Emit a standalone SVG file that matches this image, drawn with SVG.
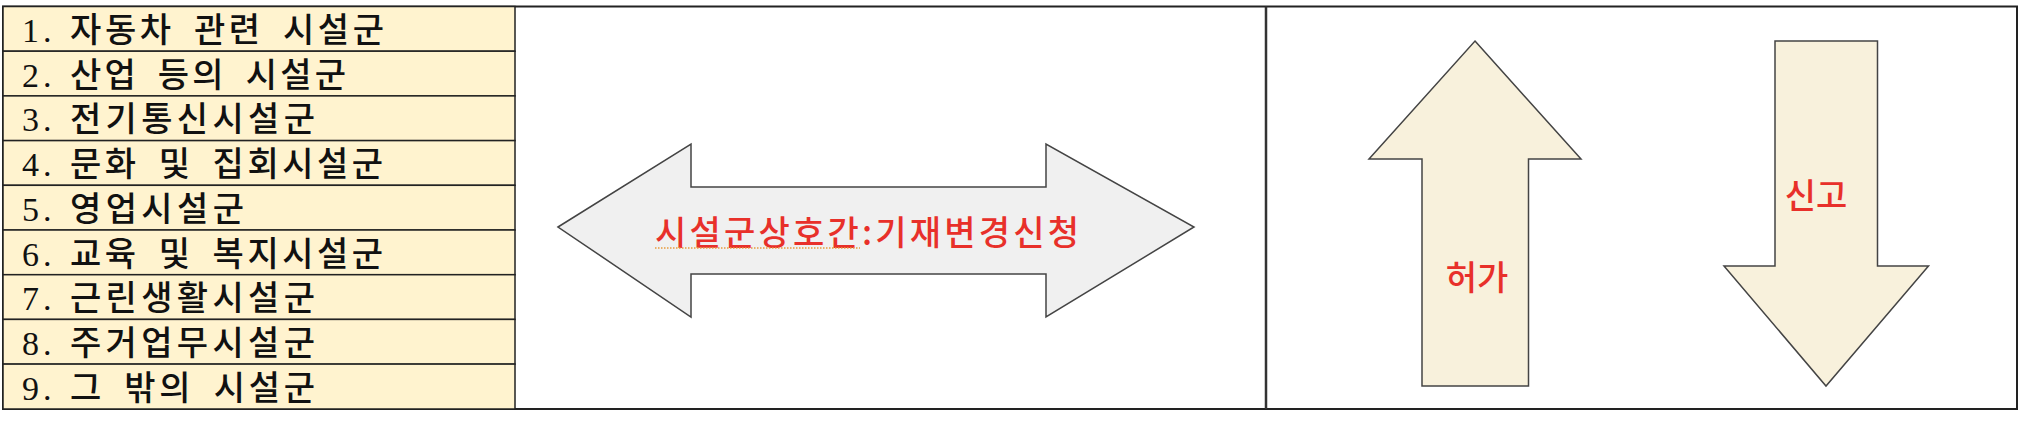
<svg xmlns="http://www.w3.org/2000/svg" width="2026" height="424" viewBox="0 0 2026 424">
<style>
.cell{fill:#FFF3CF;stroke:#222;stroke-width:1.5}
.lbl{font-family:"Liberation Serif","Noto Sans CJK KR",serif;font-size:34px;fill:#111}
.num{font-family:"Liberation Serif",serif;font-size:34px;fill:#111;letter-spacing:4px}
.ko{font-family:"Noto Sans CJK KR",sans-serif;font-size:34px;font-weight:500;fill:#111;word-spacing:8px}
.red{font-family:"Noto Sans CJK KR",sans-serif;font-size:34px;font-weight:500;fill:#E8302A}
.arr{stroke:#444;stroke-width:1.5;stroke-linejoin:miter}
</style>
<rect width="2026" height="424" fill="#fff"/>
<g id="frame">
<rect x="3" y="6.5" width="2014" height="402.5" fill="#fff" stroke="#222" stroke-width="2"/>
<line x1="1266" y1="6.5" x2="1266" y2="409" stroke="#333" stroke-width="2.5"/>
</g>
<g id="list">
<rect class="cell" x="3" y="6.5" width="512" height="44.7"/>
<rect class="cell" x="3" y="51.2" width="512" height="44.7"/>
<rect class="cell" x="3" y="95.9" width="512" height="44.7"/>
<rect class="cell" x="3" y="140.6" width="512" height="44.7"/>
<rect class="cell" x="3" y="185.3" width="512" height="44.7"/>
<rect class="cell" x="3" y="230" width="512" height="44.7"/>
<rect class="cell" x="3" y="274.7" width="512" height="44.7"/>
<rect class="cell" x="3" y="319.4" width="512" height="44.7"/>
<rect class="cell" x="3" y="364.1" width="512" height="44.9"/>
<text class="lbl" y="42"><tspan class="num" x="22">1.</tspan><tspan class="ko" x="70" textLength="314" lengthAdjust="spacing">자동차 관련 시설군</tspan></text>
<text class="lbl" y="86.7"><tspan class="num" x="22">2.</tspan><tspan class="ko" x="70" textLength="276" lengthAdjust="spacing">산업 등의 시설군</tspan></text>
<text class="lbl" y="131.4"><tspan class="num" x="22">3.</tspan><tspan class="ko" x="70" textLength="245" lengthAdjust="spacing">전기통신시설군</tspan></text>
<text class="lbl" y="176.1"><tspan class="num" x="22">4.</tspan><tspan class="ko" x="70" textLength="313" lengthAdjust="spacing">문화 및 집회시설군</tspan></text>
<text class="lbl" y="220.8"><tspan class="num" x="22">5.</tspan><tspan class="ko" x="70" textLength="174" lengthAdjust="spacing">영업시설군</tspan></text>
<text class="lbl" y="265.5"><tspan class="num" x="22">6.</tspan><tspan class="ko" x="70" textLength="313" lengthAdjust="spacing">교육 및 복지시설군</tspan></text>
<text class="lbl" y="310.2"><tspan class="num" x="22">7.</tspan><tspan class="ko" x="70" textLength="245" lengthAdjust="spacing">근린생활시설군</tspan></text>
<text class="lbl" y="354.9"><tspan class="num" x="22">8.</tspan><tspan class="ko" x="70" textLength="245" lengthAdjust="spacing">주거업무시설군</tspan></text>
<text class="lbl" y="399.6"><tspan class="num" x="22">9.</tspan><tspan class="ko" x="70" textLength="245" lengthAdjust="spacing">그 밖의 시설군</tspan></text>
</g>
<g id="exchange">
<polygon class="arr" fill="#F0F0F0" points="558,227 691,144 691,187 1046,187 1046,144 1194,227 1046,317 1046,274 691,274 691,317"/>
<text class="red" x="655" y="245" textLength="424" lengthAdjust="spacing">시설군상호간:기재변경신청</text>
<line x1="655" y1="248" x2="860" y2="248" stroke="#E89A3C" stroke-width="1.5" stroke-dasharray="1.5,1.5"/>
</g>
<g id="permit">
<polygon class="arr" fill="#F8F1DC" points="1475,41 1581,159 1528.5,159 1528.5,386 1422,386 1422,159 1369,159"/>
<text class="red" x="1477" y="290" text-anchor="middle">허가</text>
</g>
<g id="report">
<polygon class="arr" fill="#F8F1DC" points="1775,41 1877.5,41 1877.5,266 1928.5,266 1826,386 1724,266 1775,266"/>
<text class="red" x="1816" y="208" text-anchor="middle">신고</text>
</g>
</svg>
